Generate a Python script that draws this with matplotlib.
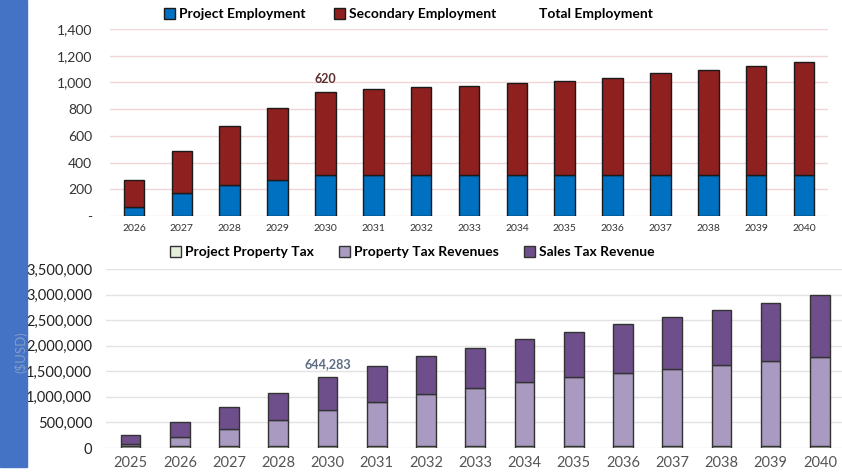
import matplotlib.pyplot as plt
from matplotlib.patches import Patch, Rectangle
from matplotlib.ticker import FuncFormatter

plt.rcParams['font.family'] = ['Lato', 'DejaVu Sans']

# employment (jobs)
emp_years = [str(y) for y in range(2026, 2041)]
project_emp = [70, 170, 232, 270, 310, 310, 310, 310, 310, 310, 310, 310, 310, 310, 310]
secondary_emp = [200, 317, 444, 539, 620, 638, 653, 666, 686, 703, 726, 758, 781, 813, 843]

# tax revenues (USD)
tax_years = ['2025', '2026', '2027', '2028', '2030', '2031', '2032', '2033',
             '2034', '2035', '2036', '2037', '2038', '2039', '2040']
project_prop_tax = [40000] * 15
prop_tax_rev = [45000, 175000, 324000, 507000, 695000, 858000, 1014000, 1138000,
                1242000, 1346000, 1424000, 1509000, 1580000, 1665000, 1736000]
sales_tax_rev = [162000, 292000, 430000, 526000, 644283, 696000, 742000, 787000,
                 852000, 891000, 956000, 1008000, 1080000, 1138000, 1210000]

W, H = 842, 476
fig = plt.figure(figsize=(W / 100, H / 100), dpi=100)

# blue side strip
fig.patches.append(Rectangle((0, 1 - 467 / H), 27 / W, 467 / H,
                             transform=fig.transFigure, color='#4472C4', zorder=0))

BLUE, RED = '#0070C0', '#8E2020'
EDGE = '#1a1a1a'

# ---------- employment chart ----------
ax1 = fig.add_axes([110 / W, 1 - 216 / H, 718 / W, 187 / H])
x = range(len(emp_years))
ax1.bar(x, project_emp, width=0.43, color=BLUE, edgecolor=EDGE, linewidth=1, zorder=3)
ax1.bar(x, secondary_emp, width=0.43, bottom=project_emp, color=RED,
        edgecolor=EDGE, linewidth=1, zorder=3)
ax1.set_xlim(-0.5, 14.5)
ax1.set_ylim(0, 1400)
ax1.set_yticks(range(0, 1401, 200))
ax1.yaxis.set_major_formatter(FuncFormatter(lambda v, p: '-' if v == 0 else f'{v:,.0f}'))
ax1.set_xticks(list(x))
ax1.set_xticklabels(emp_years, fontsize=7.5, color='#333333')
ax1.tick_params(axis='y', labelsize=10, colors='#333333', length=0, pad=13)
ax1.tick_params(axis='x', length=0, pad=6)
ax1.grid(axis='y', color='#F0D6D6', linewidth=1, zorder=0)
for s in ax1.spines.values():
    s.set_visible(False)
i = emp_years.index('2030')
ax1.annotate(f'{secondary_emp[i]:,}', (i, project_emp[i] + secondary_emp[i]),
             xytext=(0, 5), textcoords='offset points', ha='center', va='bottom',
             fontsize=9, fontweight='bold', color='#5E3030')
ax1.legend(handles=[Patch(facecolor=BLUE, edgecolor=EDGE, label='Project Employment'),
                    Patch(facecolor=RED, edgecolor=EDGE, label='Secondary Employment'),
                    Patch(facecolor='none', edgecolor='none', label='Total Employment')],
           loc='lower center', bbox_to_anchor=(0.416, 0.98), ncol=3, frameon=False,
           prop={'weight': 'bold', 'size': 10}, handlelength=0.8, handleheight=0.8,
           handletextpad=0.3, columnspacing=2.0)

# ---------- tax revenue chart ----------
GREEN, LPURP, DPURP = '#E4EFD9', '#A89AC0', '#6E4F8C'
ax2 = fig.add_axes([106 / W, 1 - 448 / H, 736 / W, 179 / H])
x2 = range(len(tax_years))
base2 = [a + b for a, b in zip(project_prop_tax, prop_tax_rev)]
ax2.bar(x2, project_prop_tax, width=0.4, color=GREEN, edgecolor='#333333', linewidth=1, zorder=3)
ax2.bar(x2, prop_tax_rev, width=0.4, bottom=project_prop_tax, color=LPURP,
        edgecolor='#333333', linewidth=1, zorder=3)
ax2.bar(x2, sales_tax_rev, width=0.4, bottom=base2, color=DPURP,
        edgecolor='#333333', linewidth=1, zorder=3)
ax2.set_xlim(-0.5, 14.45)
ax2.set_ylim(0, 3500000)
ax2.set_yticks(range(0, 3500001, 500000))
ax2.yaxis.set_major_formatter(FuncFormatter(lambda v, p: f'{v:,.0f}'))
ax2.set_xticks(list(x2))
ax2.set_xticklabels(tax_years, fontsize=10.5, color='#555555')
ax2.tick_params(axis='y', labelsize=10.5, colors='#222222', length=0, pad=10)
ax2.tick_params(axis='x', length=0, pad=6)
ax2.grid(axis='y', color='#E3E3E3', linewidth=1, zorder=0)
for s in ax2.spines.values():
    s.set_visible(False)
j = tax_years.index('2030')
ax2.annotate(f'{sales_tax_rev[j]:,}', (j, base2[j] + sales_tax_rev[j]),
             xytext=(0, 5), textcoords='offset points', ha='center', va='bottom',
             fontsize=9, fontweight='bold', color='#5B6B80')
fig.text(21 / W, 1 - 352 / H, '($USD)', rotation=90, ha='center', va='center',
         fontsize=9.5, color='#7F9CC8')
ax2.legend(handles=[Patch(facecolor=GREEN, edgecolor='#333333', label='Project Property Tax'),
                    Patch(facecolor=LPURP, edgecolor='#333333', label='Property Tax Revenues'),
                    Patch(facecolor=DPURP, edgecolor='#333333', label='Sales Tax Revenue')],
           loc='lower center', bbox_to_anchor=(0.416, 0.99), ncol=3, frameon=False,
           prop={'weight': 'bold', 'size': 10}, handlelength=0.8, handleheight=0.8,
           handletextpad=0.3, columnspacing=1.8)

fig.savefig('out.png', dpi=100)
